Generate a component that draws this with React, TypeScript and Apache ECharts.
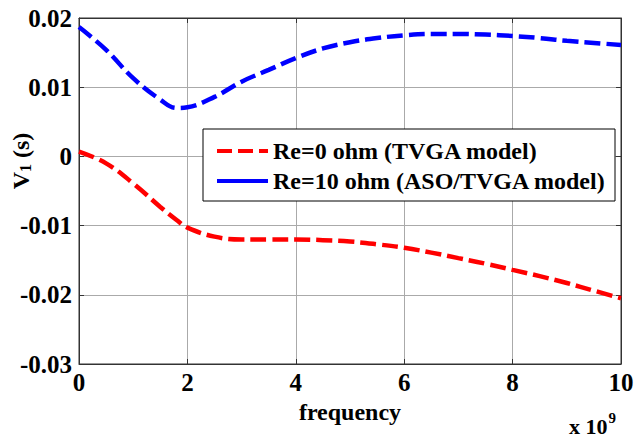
import React, { useEffect, useRef } from "react";
import * as echarts from "echarts";

const freq = [0, 0.5, 1, 1.5, 1.8, 2, 2.5, 3, 3.5, 4, 4.5, 5, 5.5, 6, 6.5, 7, 7.5, 8, 8.5, 9, 9.5, 10];
const re0 = [0.0007, -0.001, -0.0039, -0.0073, -0.0092, -0.0103, -0.0116, -0.012, -0.012, -0.012, -0.0121, -0.0123, -0.0127, -0.0132, -0.0139, -0.0147, -0.0155, -0.0164, -0.0173, -0.0183, -0.0194, -0.0205];
const re10 = [0.0187, 0.0154, 0.0113, 0.0082, 0.007, 0.0071, 0.0086, 0.0108, 0.0125, 0.0142, 0.0156, 0.0165, 0.0171, 0.0175, 0.0177, 0.0177, 0.0176, 0.0174, 0.0171, 0.0167, 0.0164, 0.0161];
const seriesNames = ["Re=0 ohm (TVGA model)", "Re=10 ohm (ASO/TVGA model)"];

const FONT = "Liberation Serif";

export default function App() {
  const ref = useRef<HTMLDivElement>(null);
  useEffect(() => {
    document.body.style.margin = "0";
    const chart = echarts.init(ref.current!, null, { renderer: "svg" });
    const labelStyle = { fontFamily: FONT, fontWeight: "bold", fontSize: 25, color: "#000" };
    const option: any = {
      animation: false,
      backgroundColor: "#fff",
      grid: { left: 79, right: 14, top: 18, bottom: 75, show: true, borderColor: "#333", borderWidth: 1, outerBoundsMode: "none", containLabel: false },
      legend: {
        orient: "vertical",
        left: 203,
        top: 129,
        backgroundColor: "#fff",
        borderColor: "#000",
        borderWidth: 1,
        padding: [10, 9, 8, 12],
        itemGap: 6,
        itemWidth: 51,
        itemHeight: 12,
        textStyle: { fontFamily: FONT, fontWeight: "bold", fontSize: 24, color: "#000" },
        data: seriesNames.map((n, i) => ({
          name: n,
          itemStyle: { opacity: 0 },
          lineStyle: { type: i === 0 ? [15, 6] : "solid", width: 4 },
        })),
      },
      xAxis: [
        {
          type: "value",
          min: 0,
          max: 10,
          interval: 2,
          name: "frequency",
          nameLocation: "middle",
          nameGap: 33,
          nameTextStyle: { fontFamily: FONT, fontWeight: "bold", fontSize: 24, color: "#000" },
          axisLine: { show: true, onZero: false, lineStyle: { color: "#333" } },
          axisTick: { show: true, inside: true, length: 5, lineStyle: { color: "#333" } },
          axisLabel: { ...labelStyle, margin: 6 },
          splitLine: { show: true, lineStyle: { color: "#aaa", width: 1 } },
        },
        {
          type: "value",
          position: "top",
          min: 0,
          max: 10,
          interval: 2,
          axisLine: { show: true, onZero: false, lineStyle: { color: "#333" } },
          axisTick: { show: true, inside: true, length: 5, lineStyle: { color: "#333" } },
          axisLabel: { show: false },
          splitLine: { show: false },
        },
      ],
      yAxis: [
        {
          type: "value",
          min: -0.03,
          max: 0.02,
          interval: 0.01,
          axisLine: { show: true, onZero: false, lineStyle: { color: "#333" } },
          axisTick: { show: true, inside: true, length: 5, lineStyle: { color: "#333" } },
          axisLabel: {
            ...labelStyle,
            margin: 7,
            formatter: (v: number) => {
              const r = Math.round(v * 100) / 100;
              return r === 0 ? "0" : r.toFixed(2);
            },
          },
          splitLine: { show: true, lineStyle: { color: "#aaa", width: 1 } },
        },
        {
          type: "value",
          position: "right",
          min: -0.03,
          max: 0.02,
          interval: 0.01,
          axisLine: { show: true, onZero: false, lineStyle: { color: "#333" } },
          axisTick: { show: true, inside: true, length: 5, lineStyle: { color: "#333" } },
          axisLabel: { show: false },
          splitLine: { show: false },
        },
      ],
      graphic: [
        {
          type: "text",
          x: 21,
          y: 161,
          rotation: Math.PI / 2,
          style: {
            text: "{v|V}{s|1}{v| (s)}",
            align: "center",
            verticalAlign: "middle",
            rich: {
              v: { fontFamily: FONT, fontWeight: "bold", fontSize: 24, fill: "#000" },
              s: { fontFamily: FONT, fontWeight: "bold", fontSize: 16, fill: "#000", padding: [9, 0, 0, 0] },
            },
          },
        },
        {
          type: "text",
          left: 569,
          top: 410,
          style: {
            text: "{a|x 10}{b|9}",
            rich: {
              a: { fontFamily: FONT, fontWeight: "bold", fontSize: 22, fill: "#000", padding: [9, 0, 0, 0] },
              b: { fontFamily: FONT, fontWeight: "bold", fontSize: 15, fill: "#000", padding: [0, 0, 9, 1] },
            },
          },
        },
      ],
      series: [
        {
          name: seriesNames[0],
          type: "line",
          smooth: 0.4,
          symbol: "none",
          data: freq.map((f, i) => [f, re0[i]]),
          lineStyle: { color: "#ff0000", width: 4.5, type: [16, 6] },
          itemStyle: { color: "#ff0000" },
        },
        {
          name: seriesNames[1],
          type: "line",
          smooth: 0.4,
          symbol: "none",
          data: freq.map((f, i) => [f, re10[i]]),
          lineStyle: { color: "#0000ff", width: 4.5, type: [16, 6] },
          itemStyle: { color: "#0000ff" },
        },
      ],
    };
    chart.setOption(option);
    return () => chart.dispose();
  }, []);
  return <div ref={ref} style={{ width: 635, height: 439 }} />;
}
